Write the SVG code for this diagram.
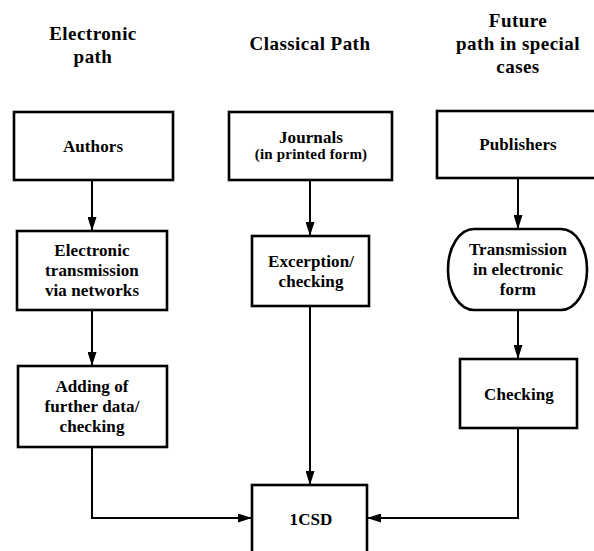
<svg xmlns="http://www.w3.org/2000/svg" width="594" height="551" viewBox="0 0 594 551">
<style>
  .box { fill: #fff; stroke: #000; stroke-width: 2.6; }
  .t { font-family: "Liberation Serif", "Times New Roman", serif; font-weight: bold; font-size: 17px; letter-spacing: 0.1px; text-anchor: middle; fill: #000; }
  .s { font-size: 15px; letter-spacing: 0.2px; }
  .h { font-family: "Liberation Serif", "Times New Roman", serif; font-weight: bold; font-size: 19px; letter-spacing: 0.45px; text-anchor: middle; fill: #000; }
  .c { fill: none; stroke: #000; stroke-width: 2; marker-end: url(#arr); }
</style>
<defs>
  <marker id="arr" markerUnits="userSpaceOnUse" markerWidth="14" markerHeight="9" refX="14" refY="4.5" orient="auto">
    <path d="M0,0 L14,4.5 L0,9 Z" fill="#000"/>
  </marker>
</defs>
<rect width="594" height="551" fill="#fff"/>

<g id="headers">
  <text class="h" x="93" y="40">Electronic</text>
  <text class="h" x="93" y="63">path</text>
  <text class="h" x="310" y="50">Classical Path</text>
  <text class="h" x="518" y="27">Future</text>
  <text class="h" x="518" y="50">path in special</text>
  <text class="h" x="518" y="73">cases</text>
</g>

<g id="connectors">
  <line class="c" x1="92" y1="180" x2="92" y2="231"/>
  <line class="c" x1="310" y1="180" x2="310" y2="236"/>
  <line class="c" x1="518" y1="179" x2="518" y2="229"/>
  <line class="c" x1="92" y1="311" x2="92" y2="366"/>
  <line class="c" x1="518" y1="310" x2="518" y2="359"/>
  <line class="c" x1="310" y1="306" x2="310" y2="485"/>
  <polyline class="c" points="92,447 92,518 252,518"/>
  <polyline class="c" points="518,428 518,518 367,518"/>
</g>

<g id="authors">
  <rect class="box" x="14" y="112" width="159" height="68"/>
  <text class="t" x="93" y="152">Authors</text>
</g>
<g id="journals">
  <rect class="box" x="229" y="112" width="163" height="68"/>
  <text class="t" x="311" y="143">Journals</text>
  <text class="t s" x="311" y="159">(in printed form)</text>
</g>
<g id="publishers">
  <rect class="box" x="437" y="111" width="165" height="67"/>
  <text class="t" x="518" y="150">Publishers</text>
</g>
<g id="electronic-transmission">
  <rect class="box" x="17" y="231" width="150" height="79"/>
  <text class="t" x="92" y="256">Electronic</text>
  <text class="t" x="92" y="276">transmission</text>
  <text class="t" x="92" y="296">via networks</text>
</g>
<g id="excerption">
  <rect class="box" x="252" y="236" width="117" height="70"/>
  <text class="t" x="311" y="267">Excerption/</text>
  <text class="t" x="311" y="287">checking</text>
</g>
<g id="transmission-electronic-form">
  <rect class="box" x="448" y="229" width="139" height="81" rx="26" ry="40"/>
  <text class="t" x="518" y="255">Transmission</text>
  <text class="t" x="518" y="275">in electronic</text>
  <text class="t" x="518" y="295">form</text>
</g>
<g id="adding">
  <rect class="box" x="18" y="366" width="149" height="81"/>
  <text class="t" x="92" y="392">Adding of</text>
  <text class="t" x="92" y="412">further data/</text>
  <text class="t" x="92" y="432">checking</text>
</g>
<g id="checking">
  <rect class="box" x="460" y="359" width="117" height="69"/>
  <text class="t" x="519" y="400">Checking</text>
</g>
<g id="icsd">
  <rect class="box" x="252" y="485" width="115" height="80"/>
  <text class="t" x="311" y="525">1CSD</text>
</g>
</svg>
